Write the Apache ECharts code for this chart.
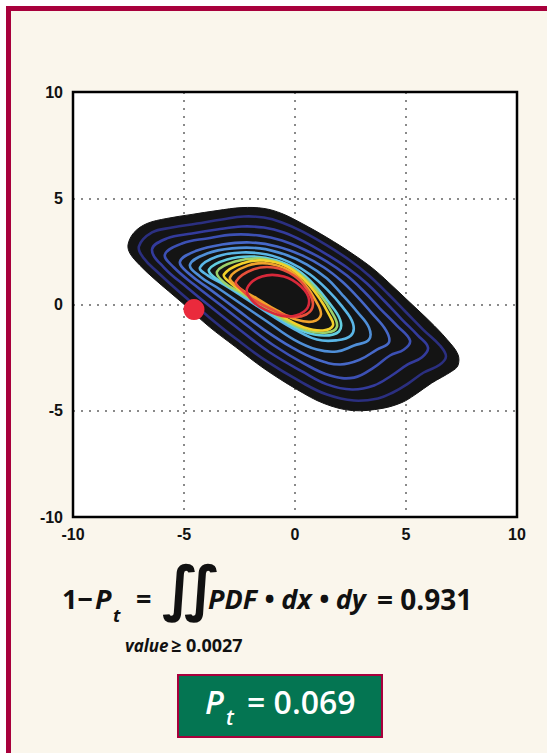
<!DOCTYPE html>
<html>
<head>
<meta charset="utf-8">
<script src="https://cdn.jsdelivr.net/npm/echarts@6/dist/echarts.min.js"></script>
<style>
html,body{margin:0;padding:0;background:#fff;}
#frame{position:absolute;left:6px;top:6px;width:600px;height:760px;box-sizing:border-box;border:5px solid #a8003c;background:#faf6ec;}
#chart{position:absolute;left:0;top:0;width:547px;height:753px;}
</style>
</head>
<body>
<div id="frame"></div>
<div id="chart"></div>
<script>
// ---- data (x, y in axis units) ----
const xTicks = [-10, -5, 0, 5, 10];
const yTicks = [-10, -5, 0, 5, 10];

const outerRegion = [[-7.52,2.82],[-7.25,3.39],[-6.67,3.81],[-5.77,4.05],[-4.64,4.24],[-3.51,4.42],[-2.39,4.56],[-1.40,4.52],[-0.59,4.28],[0.32,3.81],[1.44,3.15],[2.57,2.40],[3.56,1.65],[4.46,0.80],[5.18,0.09],[6.08,-0.80],[6.85,-1.65],[7.34,-2.35],[7.34,-2.87],[7.05,-3.15],[6.15,-3.70],[5.40,-4.25],[4.82,-4.61],[3.92,-4.89],[2.57,-4.99],[1.31,-4.66],[0.09,-4.00],[-1.40,-3.01],[-2.70,-1.98],[-3.87,-1.04],[-5.09,0.09],[-6.31,1.18],[-6.98,1.84],[-7.43,2.40]];

const contour1 = [[-7.03,2.73],[-6.44,3.39],[-5.54,3.62],[-4.41,3.81],[-3.29,4.00],[-2.30,4.14],[-1.40,4.09],[-0.59,3.86],[0.32,3.44],[1.44,2.78],[2.48,2.07],[3.38,1.32],[4.22,0.47],[4.97,-0.33],[5.77,-1.18],[6.53,-1.93],[6.80,-2.45],[6.50,-2.85],[5.80,-3.20],[5.09,-3.72],[4.41,-4.14],[3.74,-4.42],[2.66,-4.52],[1.44,-4.24],[0.23,-3.62],[-1.26,-2.68],[-2.61,-1.65],[-3.96,-0.52],[-5.18,0.56],[-6.22,1.55],[-6.80,2.16]];
const contour2 = [[-6.44,2.59],[-5.77,3.11],[-4.64,3.34],[-3.51,3.53],[-2.39,3.67],[-1.40,3.62],[-0.50,3.39],[0.41,2.96],[1.44,2.35],[2.34,1.74],[3.24,0.99],[4.05,0.14],[4.82,-0.71],[5.54,-1.46],[5.99,-2.02],[5.72,-2.48],[5.08,-2.82],[4.37,-3.33],[3.56,-3.81],[2.57,-4.00],[1.44,-3.76],[0.32,-3.15],[-1.13,-2.26],[-2.39,-1.27],[-3.65,-0.24],[-4.86,0.80],[-5.90,1.74]];
const contour3 = [[-5.86,2.35],[-5.09,2.87],[-3.96,3.11],[-2.75,3.29],[-1.58,3.24],[-0.59,3.01],[0.41,2.59],[1.44,2.02],[2.34,1.36],[3.11,0.61],[3.83,-0.19],[4.59,-0.99],[5.18,-1.69],[4.91,-2.12],[4.28,-2.40],[3.56,-2.96],[2.66,-3.44],[1.58,-3.34],[0.41,-2.78],[-0.95,-1.93],[-2.16,-0.99],[-3.38,0.00],[-4.55,0.94],[-5.45,1.74]];
const contour4 = [[-5.18,2.02],[-4.41,2.54],[-3.29,2.82],[-2.03,2.92],[-0.81,2.73],[0.32,2.31],[1.31,1.74],[2.12,1.08],[2.79,0.38],[3.47,-0.42],[4.10,-1.22],[4.23,-1.79],[3.69,-2.12],[2.93,-2.59],[2.03,-2.82],[0.99,-2.59],[-0.14,-2.02],[-1.40,-1.18],[-2.61,-0.24],[-3.83,0.71],[-4.73,1.41]];
const contour5 = [[-4.73,1.88],[-3.96,2.40],[-2.84,2.64],[-1.58,2.64],[-0.45,2.35],[0.54,1.88],[1.44,1.22],[2.12,0.47],[2.79,-0.33],[3.33,-1.08],[3.33,-1.65],[2.66,-1.93],[1.89,-2.21],[0.99,-2.12],[-0.05,-1.65],[-1.26,-0.80],[-2.39,0.00],[-3.51,0.80],[-4.28,1.32]];
const contour6 = [[-4.28,1.74],[-3.51,2.26],[-2.39,2.45],[-1.26,2.35],[-0.23,1.98],[0.68,1.41],[1.44,0.71],[2.12,-0.09],[2.61,-0.89],[2.52,-1.46],[1.85,-1.69],[0.99,-1.65],[0.00,-1.18],[-1.13,-0.47],[-2.16,0.24],[-3.20,0.94],[-3.92,1.36]];
const contour7 = [[-3.87,1.65],[-3.06,2.12],[-1.94,2.26],[-0.81,2.07],[0.14,1.60],[0.90,0.89],[1.53,0.09],[2.03,-0.71],[1.98,-1.27],[1.31,-1.46],[0.41,-1.27],[-0.59,-0.71],[-1.67,0.00],[-2.70,0.66],[-3.56,1.22]];
const contour8 = [[-3.51,1.55],[-2.70,2.02],[-1.58,2.16],[-0.50,1.88],[0.41,1.27],[1.13,0.47],[1.67,-0.38],[1.89,-1.04],[1.44,-1.32],[0.54,-1.22],[-0.36,-0.80],[-1.40,-0.14],[-2.39,0.52],[-3.20,1.04]];
const contour9 = [[-3.20,1.41],[-2.39,1.93],[-1.40,2.07],[-0.36,1.79],[0.45,1.13],[1.08,0.33],[1.53,-0.47],[1.71,-0.99],[1.26,-1.22],[0.41,-1.08],[-0.50,-0.61],[-1.49,0.05],[-2.39,0.61],[-2.93,1.04]];
const contour10 = [[-2.93,1.27],[-2.12,1.83],[-1.22,1.93],[-0.27,1.60],[0.41,0.99],[0.90,0.24],[1.17,-0.47],[0.81,-0.80],[0.05,-0.71],[-0.81,-0.28],[-1.71,0.28],[-2.48,0.75]];
const contour11 = [[-2.66,1.08],[-1.89,1.65],[-0.95,1.74],[-0.05,1.36],[0.54,0.71],[0.81,0.00],[0.50,-0.47],[-0.23,-0.56],[-1.13,-0.19],[-1.94,0.28],[-2.43,0.71]];
const contour12 = [[-2.16,0.75],[-1.49,1.32],[-0.50,1.32],[0.27,0.85],[0.63,0.24],[0.41,-0.33],[-0.41,-0.56],[-1.35,-0.24],[-1.94,0.19]];

const observedPoint = [[-4.55, -0.24]];

const formulaLeft = '1\u2212';
const formulaP = 'P';
const formulaSub = 't';
const formulaEq = '=';
const integralSign = '\u222C';
const formulaBody = 'PDF \u2022 dx \u2022 dy';
const formulaResult = '= 0.931';
const condWord = 'value';
const condRest = '\u2265 0.0027';
const resultText = '= 0.069';

// ---- chart ----
const contours = [contour1, contour2, contour3, contour4, contour5, contour6, contour7, contour8, contour9, contour10, contour11, contour12];
const contourColors = ['#2b2f80','#333b9c','#3c50b4','#4668c8','#4f8fd8','#5ab6e6','#62cde0','#9bd16a','#f3d02a','#f0a22c','#e8503a','#d8283a'];

const chart = echarts.init(document.getElementById('chart'), null, {renderer: 'svg'});

function regionRender(params, api) {
  const pts = outerRegion.map(p => api.coord(p));
  return {type: 'polygon', shape: {points: pts, smooth: 0.35}, style: {fill: '#141414', stroke: '#141414', lineWidth: 1}};
}
function contourRender(params, api) {
  const idx = api.value(2);
  const pts = contours[idx].map(p => api.coord(p));
  return {type: 'polygon', shape: {points: pts, smooth: 0.4}, style: {fill: 'none', stroke: contourColors[idx], lineWidth: 2.6}};
}

const labelFont = {fontFamily: 'Liberation Sans', fontWeight: 'bold', fontSize: 16, color: '#111'};
const capFont = '"Open Sans"';
const split = {show: true, showMinLine: false, showMaxLine: false, lineStyle: {color: '#8a8a8a', width: 2, type: [2, 6]}};

chart.setOption({
  animation: false,
  grid: {left: 73, top: 92, width: 444, height: 425, show: true, backgroundColor: '#ffffff', borderColor: '#000', borderWidth: 2},
  xAxis: {type: 'value', min: xTicks[0], max: xTicks[xTicks.length-1], interval: 5,
    axisLine: {show: false}, axisTick: {show: false},
    axisLabel: Object.assign({margin: 9}, labelFont), splitLine: split},
  yAxis: {type: 'value', min: yTicks[0], max: yTicks[yTicks.length-1], interval: 5,
    axisLine: {show: false}, axisTick: {show: false},
    axisLabel: Object.assign({margin: 10}, labelFont), splitLine: split},
  series: [
    {type: 'custom', renderItem: regionRender, data: [[outerRegion[0][0], outerRegion[0][1]]], clip: true, z: 2, silent: true},
    {type: 'custom', renderItem: contourRender, data: contours.map((c, i) => [c[0][0], c[0][1], i]), clip: true, z: 3, silent: true},
    {type: 'scatter', data: observedPoint, symbolSize: 21, itemStyle: {color: '#ea2a3c', opacity: 1}, z: 5}
  ],
  graphic: [
    {type: 'rect', z: 10, shape: {x: 73, y: 92, width: 444, height: 425}, style: {fill: 'none', stroke: '#000', lineWidth: 2.5}, silent: true},
    {type: 'text', left: 62, top: 585, style: {text: formulaLeft, font: 'bold 27px ' + capFont, fill: '#111'}},
    {type: 'text', left: 95, top: 585, style: {text: formulaP, font: 'italic bold 27px ' + capFont, fill: '#111'}},
    {type: 'text', left: 113, top: 606, style: {text: formulaSub, font: 'italic bold 18px ' + capFont, fill: '#111'}},
    {type: 'text', left: 136, top: 585, style: {text: formulaEq, font: 'bold 27px ' + capFont, fill: '#111'}},
    {type: 'text', left: 162, top: 558, style: {text: integralSign, font: 'bold 60px "DejaVu Sans"', fill: '#111'}},
    {type: 'text', left: 208, top: 585, style: {text: formulaBody, font: 'italic bold 27px ' + capFont, fill: '#111'}},
    {type: 'text', left: 377, top: 585, style: {text: formulaResult, font: 'bold 28px ' + capFont, fill: '#111'}},
    {type: 'text', left: 125, top: 637, style: {text: condWord, font: 'italic bold 17px ' + capFont, fill: '#111'}},
    {type: 'text', left: 171, top: 636, style: {text: condRest, font: 'bold 18px ' + capFont, fill: '#111'}},
    {type: 'rect', shape: {x: 178, y: 675, width: 204, height: 62}, style: {fill: '#047552', stroke: '#a8003c', lineWidth: 2}},
    {type: 'text', left: 205, top: 685, style: {text: formulaP, font: 'italic 600 32px ' + capFont, fill: '#fff'}},
    {type: 'text', left: 226, top: 706, style: {text: formulaSub, font: 'italic 600 21px ' + capFont, fill: '#fff'}},
    {type: 'text', left: 247, top: 685, style: {text: resultText, font: '600 32px ' + capFont, fill: '#fff'}}
  ]
});
</script>
</body>
</html>
